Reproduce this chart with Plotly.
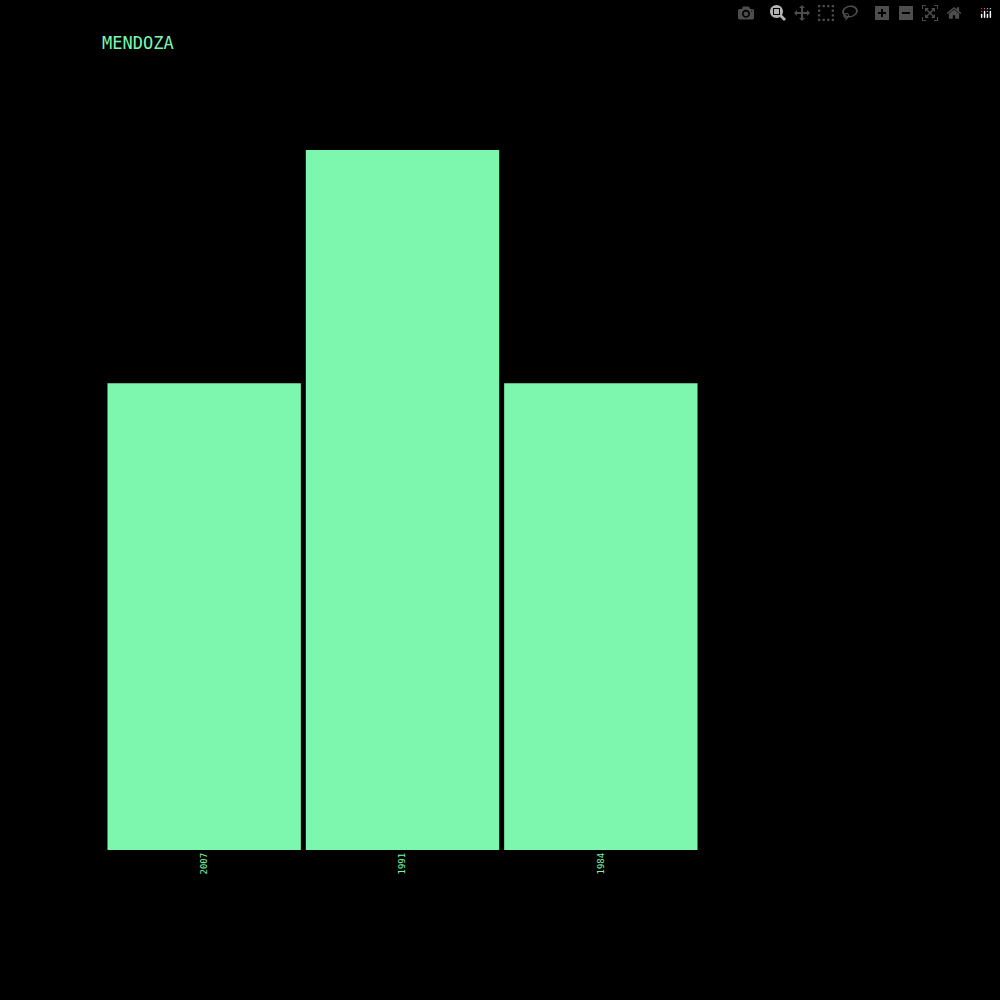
import plotly.graph_objects as go

years = ["2007", "1991", "1984"]
values = [2, 3, 2]

fig = go.Figure(go.Bar(x=years, y=values, marker_color="#7cf7ad",
                       marker_line_width=0))

fig.update_layout(
    width=1000, height=1000,
    paper_bgcolor="black", plot_bgcolor="black",
    margin=dict(l=105, r=300, t=150, b=150),
    bargap=0.025,
    title=dict(text="MENDOZA", x=0.102, xanchor="left", y=0.957, yanchor="middle",
               font=dict(family="DejaVu Sans Mono", size=17, color="#7cf7ad")),
    xaxis=dict(showgrid=False, zeroline=False, tickangle=-90,
               tickfont=dict(family="DejaVu Sans Mono", size=9, color="#7cf7ad")),
    yaxis=dict(showgrid=False, zeroline=False, showticklabels=False,
               range=[0, 3]),
    showlegend=False,
)

fig.write_html("out.html",
               post_script="document.body.style.margin='0';document.body.style.background='black';")
